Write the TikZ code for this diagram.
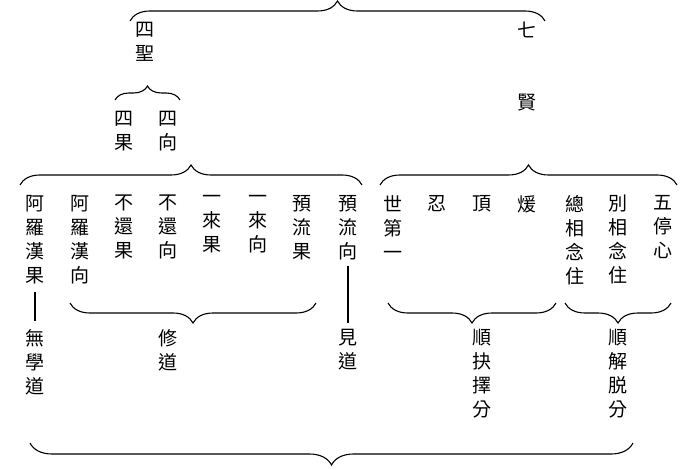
\documentclass[tikz,border=0pt]{standalone}
\usepackage{fontspec}
\newfontfamily\cjk{Noto Sans CJK TC}
\usetikzlibrary{decorations.pathreplacing}
\tikzset{
  vt/.style={font=\cjk\fontsize{19}{24}\selectfont, align=center, inner sep=0pt, anchor=north},
  br/.style={line width=1.1pt, decorate, decoration={brace, amplitude=#1}},
  brd/.style={line width=1.1pt, decorate, decoration={brace, mirror, amplitude=#1}},
  ln/.style={line width=1.1pt}
}
\begin{document}
\begin{tikzpicture}[x=1pt,y=-1pt]
\useasboundingbox (0,0) rectangle (700,470);
% top level
\draw[br=20] (130,21) -- (545,21);
\node[vt] (sisheng) at (145,22) {四\\聖};
\node[vt] (qi) at (527,22) {七};
\node[vt] (xian) at (527,94) {賢};
\draw[br=14] (115,100) -- (180,100);
\node[vt] (siguo) at (124,111) {四\\果};
\node[vt] (sixiang) at (168,111) {四\\向};
\draw[br=20] (20,185) -- (362,185);
\draw[br=20] (380,185) -- (677,185);
% row
\node[vt] (c1) at (35,195) {阿\\羅\\漢\\果};
\node[vt] (c2) at (80,195) {阿\\羅\\漢\\向};
\node[vt] (c3) at (124,195) {不\\還\\果};
\node[vt] (c4) at (168,195) {不\\還\\向};
\node[vt] (c5) at (212,195) {一\\來\\果};
\node[vt] (c6) at (258,195) {一\\來\\向};
\node[vt] (c7) at (302,195) {預\\流\\果};
\node[vt] (c8) at (348,195) {預\\流\\向};
\node[vt] (c9) at (393,195) {世\\第\\一};
\node[vt] (c10) at (437,195) {忍};
\node[vt] (c11) at (482,195) {頂};
\node[vt] (c12) at (527,195) {煖};
\node[vt] (c13) at (575,195) {總\\相\\念\\住};
\node[vt] (c14) at (618,195) {別\\相\\念\\住};
\node[vt] (c15) at (663,195) {五\\停\\心};
% lower
\node[vt] (wuxue) at (35,329) {無\\學\\道};
\node[vt] (xiudao) at (168,329) {修\\道};
\node[vt] (jiandao) at (348,329) {見\\道};
\node[vt] (shunjue) at (482,329) {順\\抉\\擇\\分};
\node[vt] (shunjie) at (618,329) {順\\解\\脱\\分};
\draw[ln] ([yshift=-8pt]c1.south) -- ([yshift=8pt]wuxue.north);
\draw[ln] ([yshift=-6pt]c8.south) -- ([yshift=6pt]jiandao.north);
\draw[brd=20] (70,303) -- (316,303);
\draw[brd=20] (388,303) -- (556,303);
\draw[brd=20] (565,303) -- (671,303);
\draw[brd=22] (30,443) -- (633,443);
\end{tikzpicture}
\end{document}
